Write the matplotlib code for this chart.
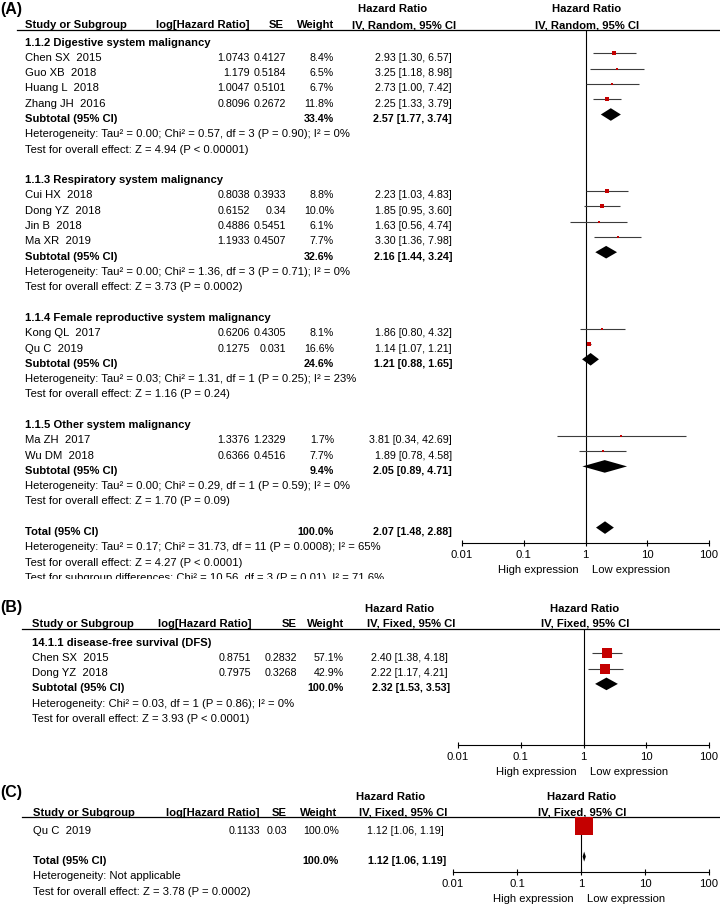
import matplotlib

matplotlib.use("Agg")
import matplotlib.pyplot as plt  # noqa: E402
from matplotlib.patches import Rectangle  # noqa: E402
from matplotlib.ticker import NullLocator  # noqa: E402

plt.rcParams["font.family"] = ["Liberation Sans", "DejaVu Sans"]

# ---- panel A: overall survival by system ----
groups_a = [
    "1.1.2 Digestive system malignancy",
    "1.1.3 Respiratory system malignancy",
    "1.1.4 Female reproductive system malignancy",
    "1.1.5 Other system malignancy",
]
group_sizes_a = [4, 4, 2, 2]
studies_a = ["Chen SX  2015", "Guo XB  2018", "Huang L  2018", "Zhang JH  2016",
             "Cui HX  2018", "Dong YZ  2018", "Jin B  2018", "Ma XR  2019",
             "Kong QL  2017", "Qu C  2019", "Ma ZH  2017", "Wu DM  2018"]
loghr_a = ["1.0743", "1.179", "1.0047", "0.8096", "0.8038", "0.6152", "0.4886", "1.1933",
           "0.6206", "0.1275", "1.3376", "0.6366"]
se_a = ["0.4127", "0.5184", "0.5101", "0.2672", "0.3933", "0.34", "0.5451", "0.4507",
        "0.4305", "0.031", "1.2329", "0.4516"]
weight_a = [8.4, 6.5, 6.7, 11.8, 8.8, 10.0, 6.1, 7.7, 8.1, 16.6, 1.7, 7.7]
hr_a = [2.93, 3.25, 2.73, 2.25, 2.23, 1.85, 1.63, 3.30, 1.86, 1.14, 3.81, 1.89]
lo_a = [1.30, 1.18, 1.00, 1.33, 1.03, 0.95, 0.56, 1.36, 0.80, 1.07, 0.34, 0.78]
hi_a = [6.57, 8.98, 7.42, 3.79, 4.83, 3.60, 4.74, 7.98, 4.32, 1.21, 42.69, 4.58]
sub_weight_a = [33.4, 32.6, 24.6, 9.4]
sub_hr_a = [2.57, 2.16, 1.21, 2.05]
sub_lo_a = [1.77, 1.44, 0.88, 0.89]
sub_hi_a = [3.74, 3.24, 1.65, 4.71]
het_a = [
    "Heterogeneity: Tau² = 0.00; Chi² = 0.57, df = 3 (P = 0.90); I² = 0%",
    "Heterogeneity: Tau² = 0.00; Chi² = 1.36, df = 3 (P = 0.71); I² = 0%",
    "Heterogeneity: Tau² = 0.03; Chi² = 1.31, df = 1 (P = 0.25); I² = 23%",
    "Heterogeneity: Tau² = 0.00; Chi² = 0.29, df = 1 (P = 0.59); I² = 0%",
]
test_a = [
    "Test for overall effect: Z = 4.94 (P < 0.00001)",
    "Test for overall effect: Z = 3.73 (P = 0.0002)",
    "Test for overall effect: Z = 1.16 (P = 0.24)",
    "Test for overall effect: Z = 1.70 (P = 0.09)",
]
total_weight_a = 100.0
total_hr_a, total_lo_a, total_hi_a = 2.07, 1.48, 2.88
total_notes_a = [
    "Heterogeneity: Tau² = 0.17; Chi² = 31.73, df = 11 (P = 0.0008); I² = 65%",
    "Test for overall effect: Z = 4.27 (P < 0.0001)",
    "Test for subgroup differences: Chi² = 10.56, df = 3 (P = 0.01), I² = 71.6%",
]

# ---- panel B: disease-free survival ----
group_b = "14.1.1 disease-free survival (DFS)"
studies_b = ["Chen SX  2015", "Dong YZ  2018"]
loghr_b = ["0.8751", "0.7975"]
se_b = ["0.2832", "0.3268"]
weight_b = [57.1, 42.9]
hr_b = [2.40, 2.22]
lo_b = [1.38, 1.17]
hi_b = [4.18, 4.21]
sub_weight_b = 100.0
sub_hr_b, sub_lo_b, sub_hi_b = 2.32, 1.53, 3.53
notes_b = ["Heterogeneity: Chi² = 0.03, df = 1 (P = 0.86); I² = 0%",
           "Test for overall effect: Z = 3.93 (P < 0.0001)"]

# ---- panel C ----
studies_c = ["Qu C  2019"]
loghr_c = ["0.1133"]
se_c = ["0.03"]
weight_c = [100.0]
hr_c = [1.12]
lo_c = [1.06]
hi_c = [1.19]
total_weight_c = 100.0
total_hr_c, total_lo_c, total_hi_c = 1.12, 1.06, 1.19
notes_c = ["Heterogeneity: Not applicable",
           "Test for overall effect: Z = 3.78 (P = 0.0002)"]

tick_vals = [0.01, 0.1, 1, 10, 100]
tick_labels = ["0.01", "0.1", "1", "10", "100"]
favours = ["High expression", "Low expression"]
col_names = ["Study or Subgroup", "log[Hazard Ratio]", "SE", "Weight"]

W, H = 720, 906
ROW = 15.3
FS = 8.1      # text size
NFS = 7.7     # numeric columns run a little narrower in the original
RED = "#c40000"
CI_COL = "#3c3c3c"

fig = plt.figure(figsize=(W / 100, H / 100), dpi=100)
tx = fig.add_axes([0, 0, 1, 1])
tx.set_xlim(0, W)
tx.set_ylim(H, 0)
tx.axis("off")


def put(x, y, s, ha="left", bold=False, size=FS, clip=None):
    t = tx.text(x, y, s, ha=ha, va="baseline", fontsize=size,
                fontweight="bold" if bold else "normal", color="black")
    if clip is not None:
        t.set_clip_on(True)
        t.set_clip_path(clip)
    return t


def ci_text(h, lo, hi):
    return f"{h:.2f} [{lo:.2f}, {hi:.2f}]"


def forest_axes(x0, x1, line_y, row0, axis_row):
    ybot = row0 + axis_row * ROW
    ax = fig.add_axes([x0 / W, 1 - ybot / H, (x1 - x0) / W, (ybot - line_y) / H])
    ax.set_xscale("log")
    ax.set_xlim(0.01, 100)
    ax.set_ylim(axis_row, (line_y - row0) / ROW)
    for s in ("top", "left", "right"):
        ax.spines[s].set_visible(False)
    ax.spines["bottom"].set_linewidth(0.8)
    ax.set_xticks(tick_vals)
    ax.set_xticklabels(tick_labels)
    ax.xaxis.set_minor_locator(NullLocator())
    ax.tick_params(axis="x", direction="inout", length=5, width=0.8, pad=2.5,
                   labelsize=FS)
    ax.set_yticks([])
    ax.patch.set_alpha(0)
    ax.axvline(1, color="black", lw=0.8, zorder=1)
    ax.annotate(favours[0], xy=(1, 0), xycoords=("data", "axes fraction"),
                xytext=(-7, -27), textcoords="offset pixels", ha="right", va="center",
                fontsize=FS, annotation_clip=False)
    ax.annotate(favours[1], xy=(1, 0), xycoords=("data", "axes fraction"),
                xytext=(6, -27), textcoords="offset pixels", ha="left", va="center",
                fontsize=FS, annotation_clip=False)
    return ax


def study_mark(ax, r, h, lo, hi, w, scale):
    ax.plot([lo, hi], [r, r], color=CI_COL, lw=0.8, zorder=2, solid_capstyle="butt")
    side = scale * w ** 0.5
    ax.scatter([h], [r], marker="s", s=(side * 0.72) ** 2, color=RED,
               linewidths=0, zorder=3)


def diamond(ax, r, h, lo, hi, half=6.3):
    dh = half / ROW
    ax.fill([lo, h, hi, h], [r, r - dh, r, r + dh], color="black", lw=0, zorder=3)


def headers(line_y, x_start, name_x, cols, ci_right, hr_center, method, right_center):
    put(hr_center, line_y - 17, "Hazard Ratio", ha="center", bold=True)
    put(right_center, line_y - 17, "Hazard Ratio", ha="center", bold=True)
    put(name_x, line_y - 1.5, col_names[0], bold=True)
    for name, xr in zip(col_names[1:], cols):
        put(xr, line_y - 1.5, name, ha="right", bold=True)
    put(ci_right, line_y - 1.5, method, ha="right", bold=True)
    put(right_center, line_y - 1.5, method, ha="center", bold=True)
    tx.plot([x_start, W], [line_y, line_y], color="black", lw=0.9)


def base(row0, r):
    return row0 + r * ROW + 7.5


def study_row(row0, r, name_x, cols, ci_right, name, lg, se, w, h, lo, hi):
    y = base(row0, r)
    put(name_x, y, name)
    put(cols[0], y, lg, ha="right", size=NFS)
    put(cols[1], y, se, ha="right", size=NFS)
    put(cols[2], y, f"{w:.1f}%", ha="right", size=NFS)
    put(ci_right, y, ci_text(h, lo, hi), ha="right", size=NFS)


# ================= panel A =================
L_A, R0_A, NX_A = 29.5, 38.0, 25
cols_a = [250, 286, 334]
put(0, 14, "(A)", bold=True, size=11.5)
headers(L_A, 17, NX_A, [250, 284, 334], 456, 393, "IV, Random, 95% CI", 587)
ax_a = forest_axes(462, 709, L_A, R0_A, 33)

r = 0
k = 0
for g, n in enumerate(group_sizes_a):
    put(NX_A, base(R0_A, r), groups_a[g], bold=True)
    for i in range(n):
        rr = r + 1 + i
        study_row(R0_A, rr, NX_A, cols_a, 452, studies_a[k], loghr_a[k], se_a[k],
                  weight_a[k], hr_a[k], lo_a[k], hi_a[k])
        study_mark(ax_a, rr, hr_a[k], lo_a[k], hi_a[k], weight_a[k], 1.05)
        k += 1
    rs = r + n + 1
    ys = base(R0_A, rs)
    put(NX_A, ys, "Subtotal (95% CI)", bold=True)
    put(cols_a[2], ys, f"{sub_weight_a[g]:.1f}%", ha="right", bold=True, size=NFS)
    put(452, ys, ci_text(sub_hr_a[g], sub_lo_a[g], sub_hi_a[g]), ha="right",
        bold=True, size=NFS)
    diamond(ax_a, rs, sub_hr_a[g], sub_lo_a[g], sub_hi_a[g])
    put(NX_A, base(R0_A, rs + 1), het_a[g])
    put(NX_A, base(R0_A, rs + 2), test_a[g])
    r = rs + 4

yt = base(R0_A, r)
put(NX_A, yt, "Total (95% CI)", bold=True)
put(cols_a[2], yt, f"{total_weight_a:.1f}%", ha="right", bold=True, size=NFS)
put(452, yt, ci_text(total_hr_a, total_lo_a, total_hi_a), ha="right", bold=True,
    size=NFS)
diamond(ax_a, r, total_hr_a, total_lo_a, total_hi_a)
# the last footnote line is cut off by panel B in the original
clip_a = Rectangle((0, 0), W, 579, transform=tx.transData)
for j, note in enumerate(total_notes_a):
    put(NX_A, base(R0_A, r + 1 + j), note, clip=clip_a)

# ================= panel B =================
L_B, R0_B, NX_B = 628.5, 638.0, 32
cols_b = [251, 297, 344]
put(0, 612, "(B)", bold=True, size=11.5)
headers(L_B, 22, NX_B, cols_b, 455, 400, "IV, Fixed, 95% CI", 585)
ax_b = forest_axes(458, 709, L_B, R0_B, 7)
put(NX_B, base(R0_B, 0), group_b, bold=True)
for i in range(len(studies_b)):
    study_row(R0_B, 1 + i, NX_B, cols_b, 448, studies_b[i], loghr_b[i], se_b[i],
              weight_b[i], hr_b[i], lo_b[i], hi_b[i])
    study_mark(ax_b, 1 + i, hr_b[i], lo_b[i], hi_b[i], weight_b[i], 1.4)
rs = len(studies_b) + 1
ys = base(R0_B, rs)
put(NX_B, ys, "Subtotal (95% CI)", bold=True)
put(cols_b[2], ys, f"{sub_weight_b:.1f}%", ha="right", bold=True, size=NFS)
put(450, ys, ci_text(sub_hr_b, sub_lo_b, sub_hi_b), ha="right", bold=True, size=NFS)
diamond(ax_b, rs, sub_hr_b, sub_lo_b, sub_hi_b)
for j, note in enumerate(notes_b):
    put(NX_B, base(R0_B, rs + 1 + j), note)

# ================= panel C =================
L_C, R0_C, NX_C = 817.0, 826.0, 33
cols_c = [260, 287, 339]
put(0, 797, "(C)", bold=True, size=11.5)
headers(L_C, 22, NX_C, [260, 287, 337], 447, 391, "IV, Fixed, 95% CI", 582)
ax_c = forest_axes(453, 709, L_C, R0_C, 3)
for i in range(len(studies_c)):
    study_row(R0_C, i, NX_C, cols_c, 444, studies_c[i], loghr_c[i], se_c[i],
              weight_c[i], hr_c[i], lo_c[i], hi_c[i])
    study_mark(ax_c, i, hr_c[i], lo_c[i], hi_c[i], weight_c[i], 1.8)
rt = len(studies_c) + 1
yt = base(R0_C, rt)
put(NX_C, yt, "Total (95% CI)", bold=True)
put(cols_c[2], yt, f"{total_weight_c:.1f}%", ha="right", bold=True, size=NFS)
put(446, yt, ci_text(total_hr_c, total_lo_c, total_hi_c), ha="right", bold=True,
    size=NFS)
diamond(ax_c, rt, total_hr_c, total_lo_c, total_hi_c, half=5)
for j, note in enumerate(notes_c):
    put(NX_C, base(R0_C, rt + 1 + j), note)

fig.savefig("out.png", dpi=100)
plt.close(fig)
